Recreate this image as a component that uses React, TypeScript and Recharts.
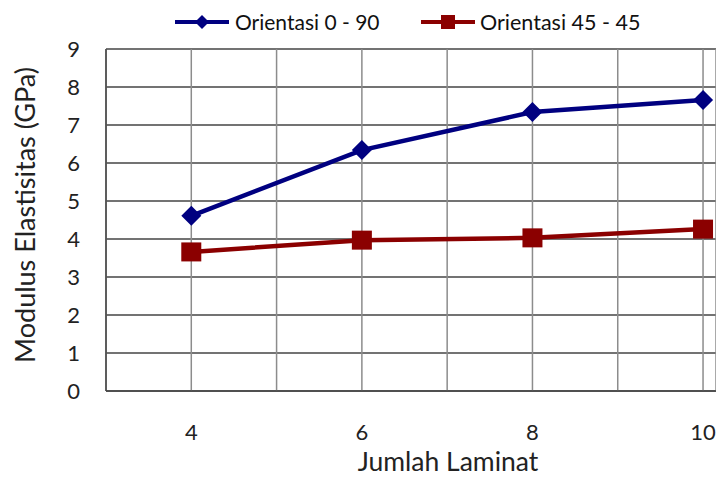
import React from "react";
import { LineChart, Line, XAxis, YAxis, CartesianGrid } from "recharts";

const laminat = [4, 6, 8, 10];
const orientasi090 = [4.61, 6.34, 7.34, 7.66];
const orientasi4545 = [3.66, 3.97, 4.03, 4.26];
const xTicks = [3, 4, 5, 6, 7, 8, 9, 10];
const xLabels = [4, 6, 8, 10];
const yTicks = [0, 1, 2, 3, 4, 5, 6, 7, 8, 9];

const seriesA = "Orientasi 0 - 90";
const seriesB = "Orientasi 45 - 45";

const data = laminat.map((x, i) => ({ x, a: orientasi090[i], b: orientasi4545[i] }));

const BLUE = "#000080";
const RED = "#8b0000";
const FONT = "Lato, sans-serif";

const Diamond = (props: any) => {
  const { cx, cy } = props;
  if (cx == null || cy == null) return null;
  const r = 10;
  return <path d={`M${cx},${cy - r}L${cx + r},${cy}L${cx},${cy + r}L${cx - r},${cy}Z`} fill={BLUE} />;
};

const Square = (props: any) => {
  const { cx, cy } = props;
  if (cx == null || cy == null) return null;
  return <rect x={cx - 10} y={cy - 9.5} width={20} height={19} fill={RED} />;
};

const legendItem: React.CSSProperties = {
  position: "absolute",
  top: 12,
  height: 20,
  display: "flex",
  alignItems: "center",
  fontFamily: FONT,
  fontSize: 21,
  color: "#111",
  whiteSpace: "nowrap",
  lineHeight: "20px",
};

const LegendBox = () => (
  <>
    <div style={{ ...legendItem, left: 175 }}>
      <svg width={54} height={20}>
        <line x1={0} y1={10} x2={54} y2={10} stroke={BLUE} strokeWidth={4} />
        <path d="M27,3L34,10L27,17L20,10Z" fill={BLUE} />
      </svg>
      <span style={{ marginLeft: 6 }}>{seriesA}</span>
    </div>
    <div style={{ ...legendItem, left: 421 }}>
      <svg width={54} height={20}>
        <line x1={0} y1={10} x2={54} y2={10} stroke={RED} strokeWidth={4} />
        <rect x={20} y={3} width={14} height={14} fill={RED} />
      </svg>
      <span style={{ marginLeft: 5, fontSize: 21.5 }}>{seriesB}</span>
    </div>
  </>
);

const YLabel = () => (
  <text x={24} y={215} transform="rotate(-90, 24, 215)" textAnchor="middle" dominantBaseline="central"
    fontFamily={FONT} fontSize={27} fill="#222">
    Modulus Elastisitas (GPa)
  </text>
);

const XLabel = (props: any) => {
  const vb = props.viewBox || {};
  return (
    <text x={448} y={vb.y + 80} textAnchor="middle" fontFamily={FONT} fontSize={26.5} fill="#222">
      Jumlah Laminat
    </text>
  );
};

export default function App() {
  return (
    <div style={{ position: "relative", width: 716, height: 477 }}>
      <style>{"html,body{margin:0;padding:0;overflow:hidden}.recharts-surface{overflow:visible}"}</style>
      <LineChart width={716} height={477} data={data} margin={{ top: 49, right: 0, bottom: 0, left: 0 }}>
        <CartesianGrid horizontal={true} vertical={false} stroke="#444" strokeWidth={1.5} />
        <CartesianGrid horizontal={false} vertical={true} stroke="#8c8c8c" strokeWidth={1.5} />
        <XAxis
          type="number"
          dataKey="x"
          domain={[3, 10.152]}
          ticks={xTicks}
          allowDataOverflow
          tickFormatter={(v: number) => (xLabels.includes(v) ? String(v) : "")}
          tickLine={false}
          tickSize={0}
          tickMargin={33}
          height={86}
          axisLine={{ stroke: "#444", strokeWidth: 1.5 }}
          tick={{ fontFamily: FONT, fontSize: 22, fill: "#222" }}
          label={<XLabel />}
        />
        <YAxis
          domain={[0, 9]}
          ticks={yTicks}
          width={106}
          tickLine={false}
          tickSize={0}
          tickMargin={26}
          axisLine={{ stroke: "#444", strokeWidth: 1.5 }}
          tick={{ fontFamily: FONT, fontSize: 22, fill: "#222" }}
          label={<YLabel />}
        />
        <Line dataKey="a" name={seriesA} stroke={BLUE} strokeWidth={4.5} dot={<Diamond />} activeDot={false} isAnimationActive={false} />
        <Line dataKey="b" name={seriesB} stroke={RED} strokeWidth={4.5} dot={<Square />} activeDot={false} isAnimationActive={false} />
      </LineChart>
      <LegendBox />
    </div>
  );
}
